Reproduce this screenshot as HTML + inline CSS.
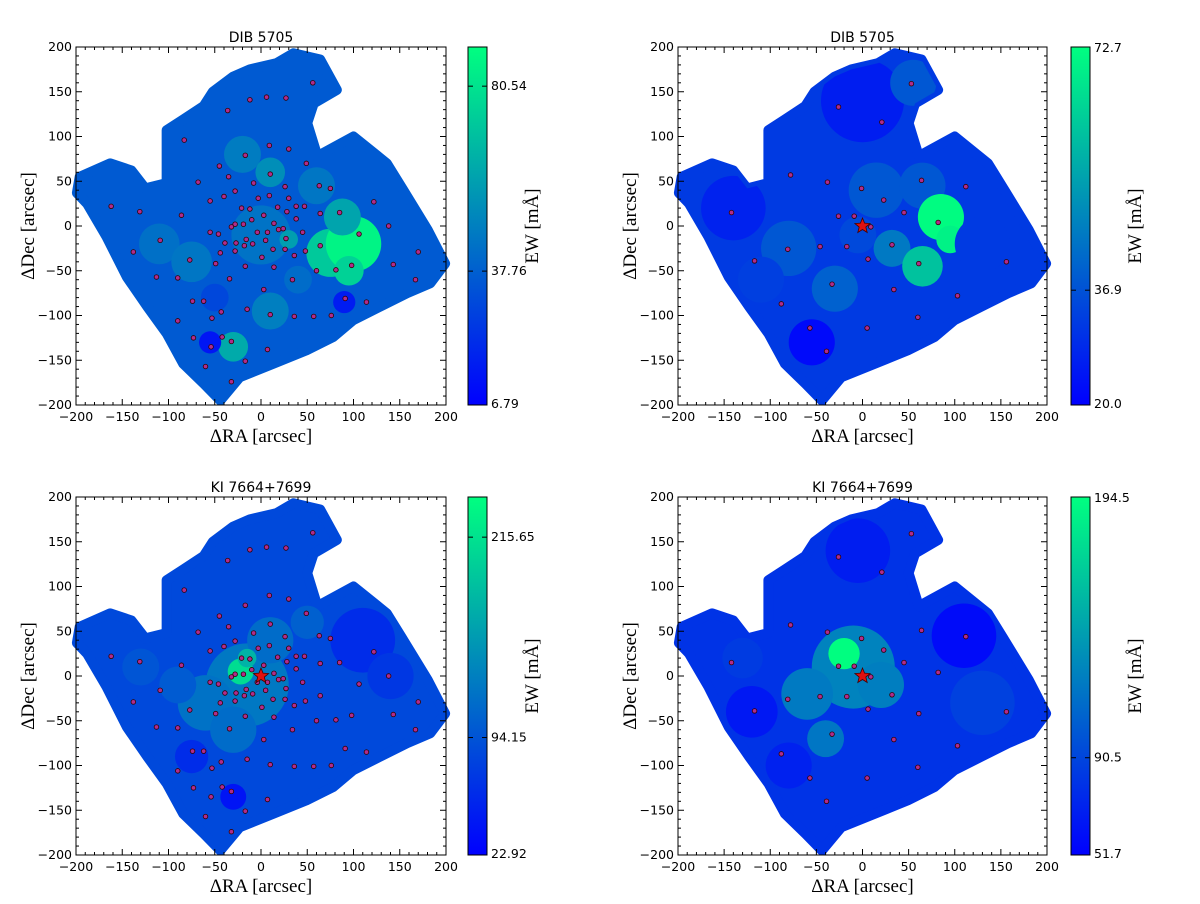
<!DOCTYPE html>
<html><head><meta charset="utf-8"><style>
body{margin:0;background:#fff;}
svg text{font-family:"DejaVu Sans","Liberation Sans",sans-serif;}
.serif{font-family:"Liberation Serif","DejaVu Serif",serif;}
</style></head><body>
<svg id="fig" width="1200" height="899" xmlns="http://www.w3.org/2000/svg"></svg>
<script>
// footprint outline (data coords, arcsec)
const footX=[-196,-163,-140,-125,-102,-102,-84,-62,-52,-30,-12,17,35,64,82,57,50,61,100,136,154,180,199,183,158,129,100,78,49,13,-23,-44,-62,-84,-102,-123,-145,-167,-188,-199];
const footY=[55,70,62,42,48,107,119,134,150,167,175,182,193,186,152,137,115,78,100,70,40,-4,-42,-64,-75,-90,-105,-124,-139,-154,-169,-195,-176,-154,-120,-90,-57,-12,25,37];
// Voronoi-bin positions (red dots)
const dotsLX=[56,-12,6,27,-36,-83,9,30,-17,49,-45,10,-35,-68,-8,26,63,75,-28,-40,-55,-3,9,30,122,-162,-131,-21,-12,18,38,47,28,64,85,-86,3,-10,-28,-19,-32,14,38,138,-55,-46,-4,7,19,24,45,106,-109,-39,-27,-16,-9,-18,5,27,13,26,48,64,-138,-44,-28,170,1,36,-77,-49,-17,14,60,81,98,143,-113,-90,-34,34,167,3,-74,-62,91,114,-15,-43,10,36,57,76,-53,-90,-73,-42,-32,-54,7,-17,-60,-32];
const dotsLY=[160,141,144,143,129,96,90,86,79,70,67,58,55,49,48,44,45,42,39,33,28,31,34,31,27,22,16,20,19,21,22,22,16,14,15,12,12,7,2,2,-1,3,8,0,-7,-9,-7,-7,-4,-3,-7,-9,-16,-19,-19,-15,-20,-22,-16,-14,-26,-26,-28,-22,-29,-30,-28,-29,-35,-33,-38,-42,-45,-46,-50,-49,-44,-43,-57,-58,-59,-60,-60,-71,-84,-84,-81,-85,-93,-96,-99,-101,-101,-100,-103,-106,-125,-124,-129,-135,-138,-151,-157,-174];
const dotsRX=[53,-26,21,-78,-38,-1,64,112,23,-142,-26,-9,45,82,9,-81,-46,-17,32,-117,6,61,156,-33,34,103,-88,60,-57,5,-39];
const dotsRY=[159,133,116,57,49,42,51,44,29,15,11,11,15,4,-1,-26,-23,-23,-21,-39,-37,-42,-40,-65,-71,-78,-87,-102,-114,-114,-140];
// EW patches per panel: x, y, radius (arcsec), value
const p1X=[0,-110,-75,-20,10,30,-30,10,75,100,88,95,90,-55,60,-50,40];
const p1Y=[-10,-20,-40,80,60,-15,-135,-95,-30,-20,10,-50,-85,-130,45,-80,-60];
const p1R=[32,22,22,20,16,10,16,20,26,30,20,16,12,12,20,15,15];
const p1V=[44,43,45,47,53,58,62,48,72,86,60,75,16,14,45,30,42];
const p2X=[0,-140,-55,-80,-30,15,32,65,55,-5,85,95,65,-110,130];
const p2Y=[140,20,-130,-25,-70,40,-25,45,160,-10,10,-15,-45,-60,-20];
const p2R=[45,35,25,30,25,30,20,25,25,20,25,15,22,25,30];
const p2V=[26,27,22,38,40,38,45,38,38,35,72,70,60,33,32];
const p3X=[-15,-60,10,-30,-90,110,140,-75,-30,-130,-22,-15,50];
const p3Y=[-10,-30,40,-60,-10,40,0,-90,-135,10,5,20,60];
const p3R=[45,30,25,25,20,35,25,18,14,20,14,10,18];
const p3V=[125,120,115,115,100,60,70,60,40,95,210,175,105];
const p4X=[-10,-60,20,-40,-20,110,-120,-80,-130,130,-5];
const p4Y=[10,-20,-10,-70,25,45,-40,-100,20,-30,140];
const p4R=[45,28,25,20,17,35,28,25,22,35,35];
const p4V=[125,120,122,118,194,58,65,70,85,88,68];
// colorbar ticks
const cb1=[6.79,37.76,80.54], cb2=[20.0,36.9,72.7], cb3=[22.92,94.15,215.65], cb4=[51.7,90.5,194.5];
const panels=[
 {x0:76,x1:446,y0:47,y1:405,cb:468,title:"DIB 5705",base:36,vmin:6.79,vmax:89.6,ticks:cb1,dec:2,dx:dotsLX,dy:dotsLY,px:p1X,py:p1Y,pr:p1R,pv:p1V,star:false},
 {x0:678,x1:1047,y0:47,y1:405,cb:1071,title:"DIB 5705",base:32,vmin:20.0,vmax:72.7,ticks:cb2,dec:1,dx:dotsRX,dy:dotsRY,px:p2X,py:p2Y,pr:p2R,pv:p2V,star:true},
 {x0:76,x1:446,y0:497,y1:855,cb:468,title:"KI 7664+7699",base:85,vmin:22.92,vmax:240,ticks:cb3,dec:2,dx:dotsLX,dy:dotsLY,px:p3X,py:p3Y,pr:p3R,pv:p3V,star:true},
 {x0:678,x1:1047,y0:497,y1:855,cb:1071,title:"KI 7664+7699",base:80,vmin:51.7,vmax:194.5,ticks:cb4,dec:1,dx:dotsRX,dy:dotsRY,px:p4X,py:p4Y,pr:p4R,pv:p4V,star:true}
];
const NS="http://www.w3.org/2000/svg";
const svg=document.getElementById('fig');
function mk(tag,attrs,parent){const e=document.createElementNS(NS,tag);for(const k in attrs)e.setAttribute(k,attrs[k]);(parent||svg).appendChild(e);return e;}
function cmap(t){t=Math.max(0,Math.min(1,t));return `rgb(0,${Math.round(255*t)},${Math.round(255*(1-t/2))})`;}
const defs=mk('defs',{});
const grad=mk('linearGradient',{id:'winter',x1:0,y1:1,x2:0,y2:0},defs);
mk('stop',{offset:'0','stop-color':cmap(0)},grad);mk('stop',{offset:'1','stop-color':cmap(1)},grad);
panels.forEach((P,i)=>{
 const sx=v=>P.x0+(v+200)/400*(P.x1-P.x0);
 const sy=v=>P.y1-(v+200)/400*(P.y1-P.y0);
 const col=v=>cmap((v-P.vmin)/(P.vmax-P.vmin));
 const g=mk('g',{});
 
 
 const pts=footX.map((x,k)=>sx(x)+','+sy(footY[k])).join(' ');
 const cp=mk('clipPath',{id:'clip'+i},defs);
 mk('polygon',{points:pts,stroke:'#000','stroke-width':10,'stroke-linejoin':'round'},cp);
 const fp=mk('polygon',{points:pts,fill:col(P.base),stroke:col(P.base),'stroke-width':10,'stroke-linejoin':'round'},g);
 
 
 const pg=mk('g',{'clip-path':`url(#clip${i})`},g);
 P.px.forEach((x,k)=>{
  const r=P.pr[k]/400*(P.x1-P.x0);
  const c=mk('circle',{cx:sx(x),cy:sy(P.py[k]),r:r,fill:col(P.pv[k])},pg);
  
  
 });
 P.dx.forEach((x,k)=>{
  const d=mk('circle',{cx:sx(x),cy:sy(P.dy[k]),r:2.3,fill:'#b02c8c',stroke:'#300','stroke-width':0.8},g);
  
  
 });
 if(P.star){
  const cx=sx(0),cy=sy(0);let s='';
  for(let k=0;k<10;k++){const a=-Math.PI/2+k*Math.PI/5,r=k%2?3.5:8;s+=(cx+r*Math.cos(a))+','+(cy+r*Math.sin(a))+' ';}
  const st=mk('polygon',{points:s,fill:'#e01010',stroke:'#400','stroke-width':0.8},g);
  
  
 }
 const fr=mk('rect',{x:P.x0,y:P.y0,width:P.x1-P.x0,height:P.y1-P.y0,fill:'none',stroke:'#000','stroke-width':1},g);
 
 
 for(let v=-200;v<=200;v+=10){
  const maj=v%50===0,L=maj?6:3;
  const X=sx(v),Y=sy(v);
  mk('line',{x1:X,y1:P.y1,x2:X,y2:P.y1-L,stroke:'#000'},g);
  mk('line',{x1:X,y1:P.y0,x2:X,y2:P.y0+L,stroke:'#000'},g);
  mk('line',{x1:P.x0,y1:Y,x2:P.x0+L,y2:Y,stroke:'#000'},g);
  mk('line',{x1:P.x1,y1:Y,x2:P.x1-L,y2:Y,stroke:'#000'},g);
  if(maj){
   const lab=String(v).replace('-','\u2212');
   const tx=mk('text',{x:X,y:P.y1+16,'font-size':12.5,'text-anchor':'middle'},g);tx.textContent=lab;
   
   
   const ty=mk('text',{x:P.x0-4,y:Y+4,'font-size':12.5,'text-anchor':'end'},g);ty.textContent=lab;
   
   
  }
 }
 const t=mk('text',{x:(P.x0+P.x1)/2,y:P.y0-5,'font-size':14,'text-anchor':'middle'},g);t.textContent=P.title;
 
 
 const xl=mk('text',{x:(P.x0+P.x1)/2,y:P.y1+37,'font-size':19,'text-anchor':'middle',class:'serif'},g);xl.textContent='ΔRA [arcsec]';
 
 
 const yc=(P.y0+P.y1)/2;
 const yl=mk('text',{x:P.x0-42,y:yc,'font-size':19,'text-anchor':'middle',class:'serif',transform:`rotate(-90 ${P.x0-42} ${yc})`},g);yl.textContent='ΔDec [arcsec]';
 
 
 const cbw=19;
 const cbr=mk('rect',{x:P.cb,y:P.y0,width:cbw,height:P.y1-P.y0,fill:'url(#winter)',stroke:'#000','stroke-width':1},g);
 
 
 const cy=v=>P.y1-(v-P.vmin)/(P.vmax-P.vmin)*(P.y1-P.y0);
 P.ticks.forEach(v=>{
  const Y=cy(v);
  mk('line',{x1:P.cb,y1:Y,x2:P.cb+5,y2:Y,stroke:'#000'},g);
  mk('line',{x1:P.cb+cbw,y1:Y,x2:P.cb+cbw-5,y2:Y,stroke:'#000'},g);
  const ct=mk('text',{x:P.cb+cbw+4,y:Math.min(Math.max(Y+4,P.y0+5),P.y1+3),'font-size':12.5},g);ct.textContent=v.toFixed(P.dec);
  
  
 });
 const cl=mk('text',{x:P.cb+70,y:yc,'font-size':19,'text-anchor':'middle',class:'serif',transform:`rotate(-90 ${P.cb+70} ${yc})`},g);cl.textContent='EW [mÅ]';
 
 
});
</script>
</body></html>
